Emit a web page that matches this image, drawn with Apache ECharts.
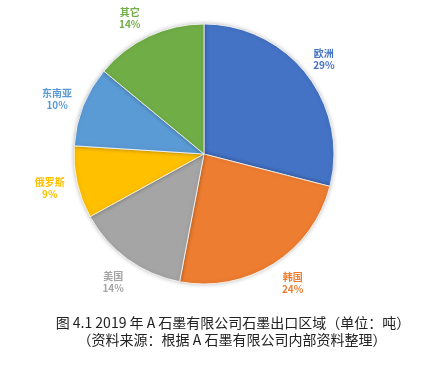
<!DOCTYPE html>
<html>
<head>
<meta charset="utf-8">
<script src="https://cdn.jsdelivr.net/npm/echarts@6/dist/echarts.min.js"></script>
<style>
html,body{margin:0;padding:0;background:#fff;}
#c{width:422px;height:370px;}
</style>
</head>
<body>
<div id="c"></div>
<script>
const categories = ['欧洲', '韩国', '美国', '俄罗斯', '东南亚', '其它'];
const values = [29, 24, 14, 9, 10, 14];
const colors = ['#4472C4', '#ED7D31', '#A5A5A5', '#FFC000', '#5B9BD5', '#70AD47'];
const labelNudge = [[-5, 2], [4, -4], [2, 0], [0, 0], [0, 3], [-7, 7]];
const captionLine1 = '图 4.1 2019 年 A 石墨有限公司石墨出口区域（单位：吨）';
const captionLine2 = '（资料来源：根据 A 石墨有限公司内部资料整理）';

const chart = echarts.init(document.getElementById('c'), null, {renderer: 'canvas'});
const center = [204, 154];
const font = '"Noto Sans CJK SC", "Noto Sans", sans-serif';

const pieData = categories.map((n, i) => ({name: n, value: values[i], itemStyle: {color: colors[i]}}));
const labelData = categories.map((n, i) => ({
  name: n, value: values[i],
  itemStyle: {color: 'rgba(0,0,0,0)'},
  label: {color: colors[i]}
}));

chart.setOption({
  animation: false,
  backgroundColor: '#fff',
  color: colors,
  graphic: [
    {type: 'text', x: 233, y: 323, style: {text: captionLine1, font: '14px ' + font, fill: '#222', align: 'center', verticalAlign: 'middle'}},
    {type: 'text', x: 232, y: 340, style: {text: captionLine2, font: '14px ' + font, fill: '#222', align: 'center', verticalAlign: 'middle'}}
  ],
  series: [
    {
      type: 'pie',
      center: center,
      radius: 130,
      startAngle: 90,
      clockwise: true,
      silent: true,
      label: {show: false},
      labelLine: {show: false},
      itemStyle: {borderColor: '#fff', borderWidth: 0.8, shadowBlur: 4, shadowColor: 'rgba(0,0,0,0.25)'},
      data: pieData
    },
    {
      type: 'pie',
      center: center,
      radius: [130, 180],
      startAngle: 90,
      clockwise: true,
      silent: true,
      labelLine: {show: false},
      label: {
        show: true,
        position: 'inside',
        formatter: p => p.name + '\n' + p.value + '%',
        fontFamily: font,
        fontSize: 10,
        fontWeight: 'bold',
        lineHeight: 12,
        align: 'center'
      },
      labelLayout: p => ({dx: labelNudge[p.dataIndex][0], dy: labelNudge[p.dataIndex][1]}),
      data: labelData
    }
  ]
});
</script>
</body>
</html>
